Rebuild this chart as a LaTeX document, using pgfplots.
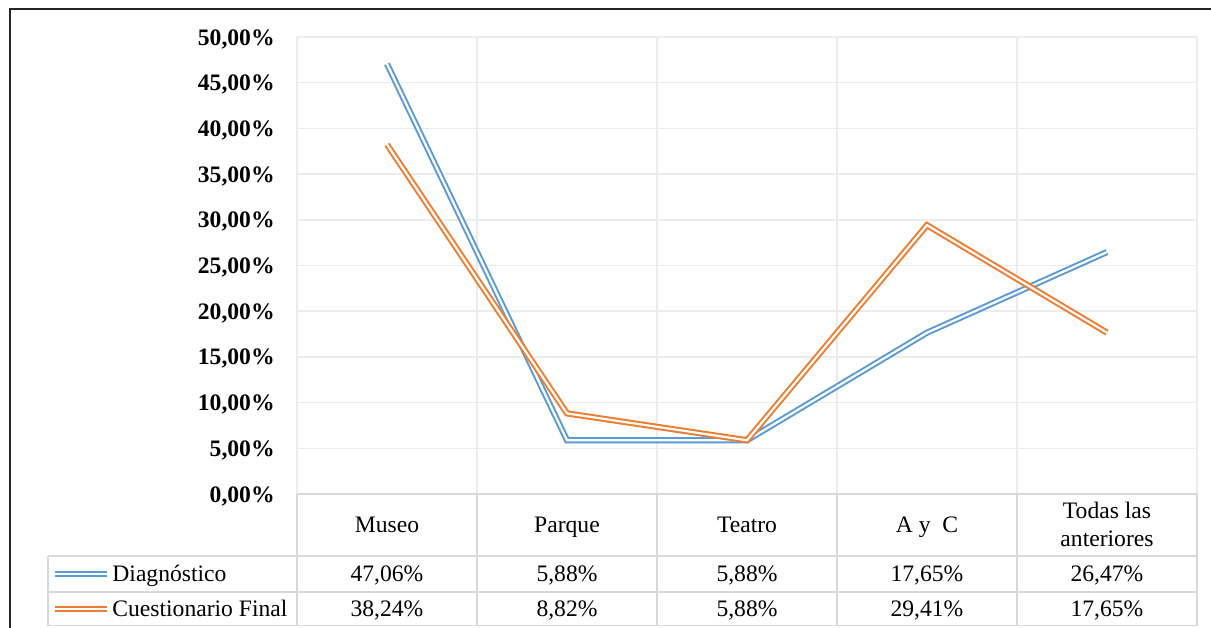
\documentclass[border=0pt]{standalone}
\usepackage{fontspec}
\setmainfont{Liberation Serif}
\usepackage{pgfplots}
\pgfplotsset{compat=1.18}
\definecolor{serA}{HTML}{5B9BD5}
\definecolor{serB}{HTML}{ED7D31}
\definecolor{gridc}{RGB}{236,236,236}
\definecolor{tabc}{RGB}{217,217,217}
\newcommand{\tf}{\fontsize{11.8}{13.5}\selectfont}
\begin{document}
\begin{tikzpicture}
\useasboundingbox (0,0) rectangle (605.5pt,313.5pt);
\begin{axis}[
  at={(148.5pt,66.5pt)}, anchor=south west,
  scale only axis, width=450pt, height=228.5pt,
  xmin=0, xmax=5, ymin=0, ymax=50,
  xtick={0,1,2,3,4,5}, xticklabels={},
  ytick={0,5,...,50},
  yticklabels={{0,00\%},{5,00\%},{10,00\%},{15,00\%},{20,00\%},{25,00\%},{30,00\%},{35,00\%},{40,00\%},{45,00\%},{50,00\%}},
  yticklabel style={font=\bfseries\tf, anchor=east, inner sep=0pt, xshift=-11pt, yshift=-1pt},
  major tick length=0pt,
  xmajorgrids, ymajorgrids,
  grid style={draw=gridc, line width=0.75pt},
  axis line style={draw=gridc, line width=0.75pt},
  clip=false,
]
\addplot[draw=serA, line width=1pt, double=white, double distance=1.1pt]
  coordinates {(0.5,47.06) (1.5,5.88) (2.5,5.88) (3.5,17.65) (4.5,26.47)};
\addplot[draw=serB, line width=1pt, double=white, double distance=1.1pt]
  coordinates {(0.5,38.24) (1.5,8.82) (2.5,5.88) (3.5,29.41) (4.5,17.65)};
\end{axis}
\begin{scope}[x=0.5pt, y=0.5pt]
  % outer frame
  \draw[black!85, line width=1pt] (10,-5) -- (10,618) -- (1215,618);
  % table lines
  \draw[tabc, line width=0.75pt] (297,133) -- (1197,133);
  \draw[tabc, line width=0.75pt] (48,71) -- (1197,71);
  \draw[tabc, line width=0.75pt] (48,35) -- (1197,35);
  \draw[tabc, line width=0.75pt] (48,1.5) -- (1197,1.5);
  \draw[tabc, line width=0.75pt] (48,71) -- (48,1.5);
  \foreach \xx in {297,477,657,837,1017,1197} {
    \draw[tabc, line width=0.75pt] (\xx,133) -- (\xx,1.5);
  }
  % header
  \node[font=\tf, anchor=base] at (387,94.5) {Museo};
  \node[font=\tf, anchor=base] at (567,94.5) {Parque};
  \node[font=\tf, anchor=base] at (747,94.5) {Teatro};
  \node[font=\tf, anchor=base] at (927,94.5) {A y~ C};
  \node[font=\tf, anchor=base] at (1107,108.5) {Todas las};
  \node[font=\tf, anchor=base] at (1107,80) {anteriores};
  % legend keys
  \draw[serA, line width=1pt, double=white, double distance=1.1pt] (55,53) -- (107,53);
  \draw[serB, line width=1pt, double=white, double distance=1.1pt] (55,18) -- (107,18);
  \node[font=\tf, anchor=base west, inner sep=0pt] at (112,45.5) {Diagnóstico};
  \node[font=\tf, anchor=base west, inner sep=0pt] at (112,10.5) {Cuestionario Final};
  % values
  \node[font=\tf, anchor=base] at (387,45.5) {47,06\%};
  \node[font=\tf, anchor=base] at (567,45.5) {5,88\%};
  \node[font=\tf, anchor=base] at (747,45.5) {5,88\%};
  \node[font=\tf, anchor=base] at (927,45.5) {17,65\%};
  \node[font=\tf, anchor=base] at (1107,45.5) {26,47\%};
  \node[font=\tf, anchor=base] at (387,10.5) {38,24\%};
  \node[font=\tf, anchor=base] at (567,10.5) {8,82\%};
  \node[font=\tf, anchor=base] at (747,10.5) {5,88\%};
  \node[font=\tf, anchor=base] at (927,10.5) {29,41\%};
  \node[font=\tf, anchor=base] at (1107,10.5) {17,65\%};
\end{scope}
\end{tikzpicture}
\end{document}
